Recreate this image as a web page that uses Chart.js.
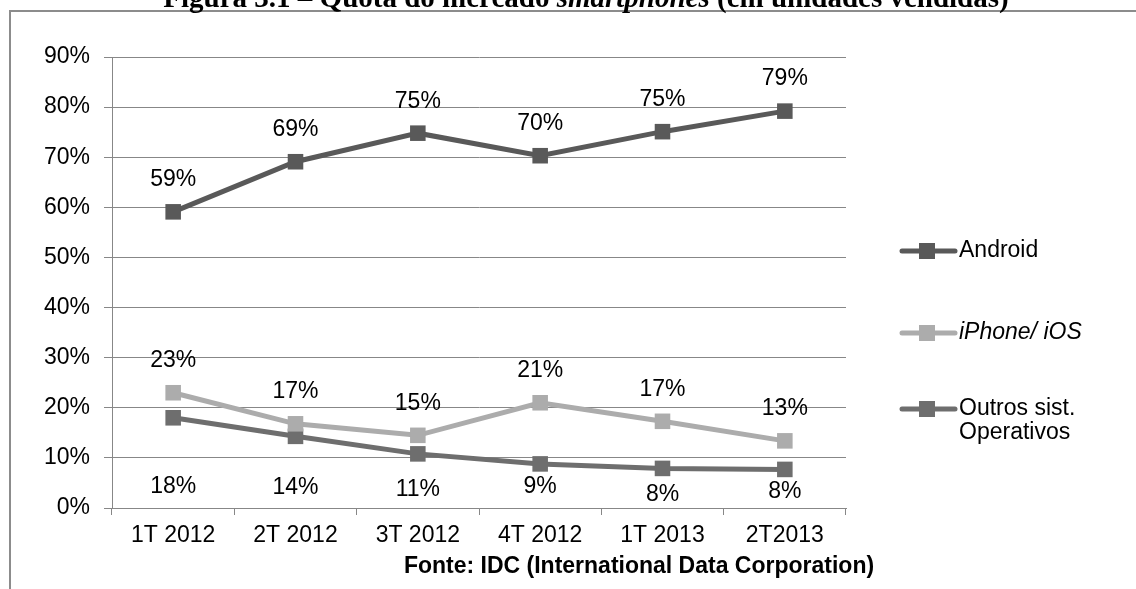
<!DOCTYPE html>
<html>
<head>
<meta charset="utf-8">
<script src="https://cdn.jsdelivr.net/npm/chart.js@4.4.0/dist/chart.umd.min.js"></script>
<style>
  html, body { margin: 0; padding: 0; background: #fff; overflow: hidden; }
  #wrap { position: relative; width: 1136px; height: 589px; }
  #frame { position: absolute; left: 9px; top: 10px; width: 1200px; height: 700px;
           border: 2px solid #8c8c8c; box-sizing: border-box; }
  canvas { position: absolute; left: 0; top: 0; }
</style>
</head>
<body>
<div id="wrap">
  <div id="frame"></div>
  <canvas id="mktChart" width="1136" height="589"></canvas>
</div>
<script>
// Quarters on the x axis
const categories = ['1T 2012', '2T 2012', '3T 2012', '4T 2012', '1T 2013', '2T2013'];

// Market share (%)
const android = [59.1, 69.1, 74.8, 70.3, 75.1, 79.2];
const ios     = [23.0, 16.8, 14.5, 21.0, 17.3, 13.4];
const outros  = [18.0, 14.3, 10.8, 8.8, 7.9, 7.7];

const yTicks = [0, 10, 20, 30, 40, 50, 60, 70, 80, 90];

// label nudges for the "Outros" series (labels sit below the line)
const outrosLabelDrop = [69, 51, 36, 23, 26, 22];

const FONT = '"Liberation Sans", Arial, sans-serif';
const SERIF = '"Liberation Serif", "Times New Roman", serif';

const seriesStyle = (label, color, data) => ({
    label: label,
    data: data,
    borderColor: color,
    backgroundColor: color,
    borderWidth: 5,
    pointStyle: 'rect',
    pointRadius: 11,
    pointBorderWidth: 0,
    pointBackgroundColor: color,
    tension: 0,
    fill: false
});

// draws title, data labels, legend and source line
const decorations = {
    id: 'decorations',
    afterDatasetsDraw(chart) {
        const c = chart.ctx;
        c.save();
        c.fillStyle = '#000';
        c.textAlign = 'center';
        c.textBaseline = 'middle';
        c.font = '23px ' + FONT;

        chart.data.datasets.forEach((ds, i) => {
            const meta = chart.getDatasetMeta(i);
            meta.data.forEach((pt, j) => {
                const txt = Math.round(ds.data[j]) + '%';
                let y = pt.y - 32;
                if (i === 2) y = pt.y + outrosLabelDrop[j];
                c.fillText(txt, pt.x, y);
            });
        });

        // legend
        const legendY = [251, 333, 409];
        chart.data.datasets.forEach((ds, i) => {
            const y = legendY[i];
            c.strokeStyle = ds.borderColor;
            c.lineWidth = 5;
            c.lineCap = 'round';
            c.beginPath();
            c.moveTo(902, y);
            c.lineTo(955, y);
            c.stroke();
            c.fillStyle = ds.borderColor;
            c.fillRect(919, y - 8, 16, 16);
            c.fillStyle = '#000';
            c.textAlign = 'left';
            c.font = (i === 1 ? 'italic ' : '') + '23px ' + FONT;
            const lines = ds.label.split('\n');
            lines.forEach((ln, k) => c.fillText(ln, 959, y + k * 24));
        });

        // source line
        c.textAlign = 'center';
        c.font = 'bold 23px ' + FONT;
        c.fillText('Fonte: IDC (International Data Corporation)', 639, 567);

        // title (mostly clipped at the top of the page)
        c.textBaseline = 'alphabetic';
        const p1 = 'Figura 3.1 – Quota do mercado ';
        const p2 = 'smartphones';
        const p3 = ' (em unidades vendidas)';
        c.font = 'bold 29px ' + SERIF;
        const w1 = c.measureText(p1).width;
        const w3 = c.measureText(p3).width;
        c.font = 'bold italic 29px ' + SERIF;
        const w2 = c.measureText(p2).width;
        let x = 586 - (w1 + w2 + w3) / 2;
        c.textAlign = 'left';
        c.font = 'bold 29px ' + SERIF;
        c.fillText(p1, x, 7);
        x += w1;
        c.font = 'bold italic 29px ' + SERIF;
        c.fillText(p2, x, 7);
        x += w2;
        c.font = 'bold 29px ' + SERIF;
        c.fillText(p3, x, 7);
        c.restore();
    }
};

const ctx = document.getElementById('mktChart').getContext('2d');
const mktChart = new Chart(ctx, {
    type: 'line',
    data: {
        labels: categories,
        datasets: [
            seriesStyle('Android', '#595959', android),
            seriesStyle('iPhone/ iOS', '#acacac', ios),
            seriesStyle('Outros sist.\nOperativos', '#6e6e6e', outros)
        ]
    },
    options: {
        responsive: false,
        animation: false,
        events: [],
        layout: {
            padding: { left: 10, right: 290, top: 57, bottom: 0 }
        },
        plugins: {
            legend: { display: false },
            tooltip: { enabled: false }
        },
        scales: {
            x: {
                offset: true,
                afterFit: (scale) => { scale.height = 81; },
                grid: {
                    offset: true,
                    drawOnChartArea: false,
                    drawTicks: true,
                    tickLength: 7,
                    color: '#878787'
                },
                border: { color: '#878787', width: 1 },
                ticks: {
                    color: '#000',
                    padding: 7,
                    maxRotation: 0,
                    font: { family: FONT, size: 23 }
                }
            },
            y: {
                min: 0,
                max: 90,
                afterFit: (scale) => { scale.width = 102; },
                afterBuildTicks: (scale) => { scale.ticks = yTicks.map(v => ({ value: v })); },
                grid: {
                    color: '#878787',
                    lineWidth: 1,
                    drawTicks: true,
                    tickLength: 8
                },
                border: { color: '#878787', width: 1 },
                ticks: {
                    color: '#000',
                    padding: 14,
                    font: { family: FONT, size: 23 },
                    callback: (v) => v + '%'
                }
            }
        }
    },
    plugins: [decorations]
});
</script>
</body>
</html>
